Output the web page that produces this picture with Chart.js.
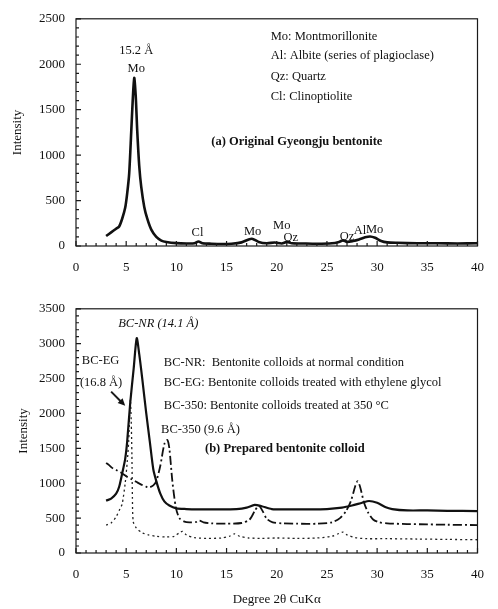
<!DOCTYPE html>
<html>
<head>
<meta charset="utf-8">
<script src="https://cdn.jsdelivr.net/npm/chart.js"></script>
<style>
    body { margin: 0; background: #fff; }
    #wrap { position: relative; width: 498px; height: 609px; }
    #top_box { position: absolute; left: 0; top: 0; width: 498px; height: 290px; }
    #bot_box { position: absolute; left: 0; top: 290px; width: 498px; height: 319px; }
</style>
</head>
<body>
<div id="wrap">
    <div id="top_box"><canvas id="chart_a"></canvas></div>
    <div id="bot_box"><canvas id="chart_b"></canvas></div>
</div>
<script>
// (a) Original Gyeongju bentonite
const a_theta = [3.0, 3.5, 4.0, 4.3, 4.6, 4.9, 5.1, 5.3, 5.5, 5.65, 5.8, 5.95, 6.1, 6.3, 6.5, 6.8, 7.1, 7.5, 8.0, 8.5, 9.0, 10, 11, 11.8, 12.2, 12.6, 13.5, 14.5, 15.5, 16.5, 17.2, 17.6, 18.2, 19.0, 19.8, 20.5, 21.0, 21.5, 22.5, 24, 25.5, 26.2, 26.6, 27.0, 27.6, 28.2, 28.8, 29.3, 29.8, 30.4, 31, 32, 34, 36, 38, 40];
const a_int   = [110, 150, 190, 215, 300, 420, 580, 800, 1250, 1600, 1850, 1650, 1270, 880, 650, 430, 300, 180, 100, 60, 45, 32, 28, 30, 50, 30, 25, 22, 25, 40, 72, 78, 45, 30, 38, 28, 45, 30, 28, 25, 30, 45, 62, 45, 55, 72, 95, 105, 90, 55, 40, 35, 30, 30, 28, 30];

// (b) Prepared bentonite colloid
const nr_theta = [3.0, 3.5, 4.0, 4.3, 4.6, 4.9, 5.1, 5.4, 5.75, 6.05, 6.3, 6.6, 7.0, 7.35, 7.7, 8.0, 8.4, 8.8, 9.3, 10, 11, 12, 14, 16, 17.0, 17.8, 18.5, 19.5, 21, 23, 25, 26.5, 27.5, 28.5, 29.2, 30.0, 30.8, 31.5, 33, 35, 37, 40];
const nr_int   = [750, 780, 850, 950, 1140, 1350, 1600, 2150, 2650, 3080, 2850, 2500, 2000, 1600, 1200, 1030, 850, 740, 680, 640, 630, 625, 625, 630, 650, 690, 670, 630, 625, 625, 630, 650, 680, 720, 745, 720, 660, 630, 610, 610, 605, 600];

const eg_theta = [3.0, 3.5, 4.0, 4.4, 4.6, 4.9, 5.1, 5.25, 5.35, 5.42, 5.5, 5.57, 5.62, 5.7, 6.0, 6.6, 7.2, 8, 9, 9.8, 10.3, 10.6, 11.0, 11.8, 13, 14.5, 15.3, 15.8, 16.3, 17.2, 18.5, 20, 22, 24, 25.5, 26.2, 26.6, 27.0, 27.8, 29, 31, 34, 37, 40];
const eg_int   = [400, 430, 520, 640, 700, 1000, 1300, 1600, 2000, 2200, 1900, 1400, 800, 450, 360, 290, 260, 240, 230, 240, 290, 310, 260, 220, 210, 215, 240, 275, 240, 215, 210, 215, 210, 215, 240, 280, 300, 260, 220, 205, 205, 200, 195, 190];

const h350_theta = [3.0, 3.3, 3.6, 4.0, 4.5, 5.0, 5.5, 6.0, 6.5, 7.0, 7.3, 7.7, 8.0, 8.4, 8.8, 9.1, 9.3, 9.6, 9.95, 10.3, 10.8, 11.3, 12.0, 12.3, 12.7, 13.5, 15, 16.5, 17.3, 17.8, 18.2, 18.6, 19.0, 19.6, 20.5, 22, 24, 25.5, 26.3, 26.9, 27.4, 27.8, 28.05, 28.3, 28.7, 29.1, 29.6, 30.2, 31, 33, 35, 37, 40];
const h350_int   = [1290, 1260, 1220, 1190, 1150, 1100, 1060, 1020, 980, 950, 940, 970, 1030, 1250, 1560, 1620, 1500, 1030, 650, 500, 450, 440, 445, 465, 440, 425, 420, 430, 480, 600, 680, 600, 490, 440, 425, 420, 420, 440, 500, 600, 750, 950, 1030, 950, 720, 580, 480, 440, 425, 415, 410, 405, 400];

const x_min = 0, x_max = 40, x_step = 5;
const a_y_max = 2500, b_y_max = 3500, y_step = 500;

const serif = "'Liberation Serif', 'Times New Roman', serif";

function toPoints(xs, ys) {
    let res = [];
    for (let i = 0; i < xs.length; i++) {
        res.push({ x: xs[i], y: ys[i] });
    }
    return res;
}

// frame, inward ticks and text notes
const framePlugin = {
    id: 'frame',
    afterDraw(chart, args, opts) {
        const ctx = chart.ctx;
        const a = chart.chartArea;
        const xs = chart.scales.x, ys = chart.scales.y;
        ctx.save();
        ctx.strokeStyle = '#1a1a1a';
        ctx.lineWidth = 1.2;
        ctx.strokeRect(a.left, a.top, a.right - a.left, a.bottom - a.top);
        ctx.beginPath();
        xs.ticks.forEach(t => {
            let px = xs.getPixelForValue(t.value);
            let len = t.value % x_step === 0 ? 5 : 3;
            ctx.moveTo(px, a.bottom);
            ctx.lineTo(px, a.bottom - len);
        });
        ys.ticks.forEach(t => {
            let py = ys.getPixelForValue(t.value);
            let len = t.value % y_step === 0 ? 5 : 3;
            ctx.moveTo(a.left, py);
            ctx.lineTo(a.left + len, py);
        });
        ctx.stroke();

        ctx.fillStyle = '#111';
        ctx.textBaseline = 'middle';
        (opts.notes || []).forEach(n => {
            ctx.font = (n.style || '') + ' 12.5px ' + serif;
            ctx.textAlign = n.align || 'center';
            ctx.fillText(n.text, xs.getPixelForValue(n.x), ys.getPixelForValue(n.y));
        });

        (opts.arrows || []).forEach(ar => {
            let x1 = xs.getPixelForValue(ar.x1), y1 = ys.getPixelForValue(ar.y1);
            let x2 = xs.getPixelForValue(ar.x2), y2 = ys.getPixelForValue(ar.y2);
            let ang = Math.atan2(y2 - y1, x2 - x1);
            ctx.lineWidth = 2;
            ctx.beginPath();
            ctx.moveTo(x1, y1);
            ctx.lineTo(x2 - 4 * Math.cos(ang), y2 - 4 * Math.sin(ang));
            ctx.stroke();
            ctx.beginPath();
            ctx.moveTo(x2, y2);
            ctx.lineTo(x2 - 8 * Math.cos(ang - 0.45), y2 - 8 * Math.sin(ang - 0.45));
            ctx.lineTo(x2 - 8 * Math.cos(ang + 0.45), y2 - 8 * Math.sin(ang + 0.45));
            ctx.closePath();
            ctx.fill();
        });
        ctx.restore();
    }
};

function makeOptions(yMax, titlePad, xTitle, notes, arrows) {
    return {
        responsive: true,
        maintainAspectRatio: false,
        animation: false,
        layout: { padding: { top: 15, right: 11, left: 0, bottom: 0 } },
        elements: { point: { radius: 0 }, line: { tension: 0.25 } },
        plugins: {
            legend: { display: false },
            tooltip: { enabled: false },
            frame: { notes: notes, arrows: arrows }
        },
        scales: {
            x: {
                type: 'linear',
                min: x_min,
                max: x_max,
                grid: { display: false, drawTicks: false },
                border: { display: false },
                ticks: {
                    stepSize: 1,
                    autoSkip: false,
                    maxRotation: 0,
                    padding: 14,
                    color: '#111',
                    font: { family: serif, size: 13 },
                    callback: v => (v % x_step === 0 ? v : '')
                },
                title: xTitle,
                afterFit: s => { s.height = xTitle.display ? 56 : 44; }
            },
            y: {
                min: 0,
                max: yMax,
                grid: { display: false, drawTicks: false },
                border: { display: false },
                ticks: {
                    stepSize: 100,
                    autoSkip: false,
                    padding: 11,
                    color: '#111',
                    font: { family: serif, size: 13 },
                    callback: v => (v % y_step === 0 ? v : '')
                },
                title: {
                    display: true,
                    text: 'Intensity',
                    color: '#111',
                    font: { family: serif, size: 13 },
                    padding: { top: titlePad, bottom: 0 }
                },
                afterFit: s => { s.width = 76; }
            }
        }
    };
}

const notes_a = [
    { text: '15.2 Å', x: 6.0, y: 2154 },
    { text: 'Mo', x: 6.0, y: 1948 },
    { text: 'Cl', x: 12.1, y: 141 },
    { text: 'Mo', x: 17.6, y: 152 },
    { text: 'Mo', x: 20.5, y: 227 },
    { text: 'Qz', x: 21.4, y: 87 },
    { text: 'Qz', x: 27.0, y: 97 },
    { text: 'Al', x: 28.3, y: 173 },
    { text: 'Mo', x: 29.75, y: 184 },
    { text: 'Mo: Montmorillonite', x: 19.4, y: 2305, align: 'left' },
    { text: 'Al: Albite (series of plagioclase)', x: 19.4, y: 2089, align: 'left' },
    { text: 'Qz: Quartz', x: 19.4, y: 1861, align: 'left' },
    { text: 'Cl: Clinoptiolite', x: 19.4, y: 1645, align: 'left' },
    { text: '(a) Original Gyeongju bentonite', x: 22.0, y: 1147, style: 'bold' }
];

const notes_b = [
    { text: 'BC-NR (14.1 Å)', x: 8.2, y: 3286, style: 'italic' },
    { text: 'BC-EG', x: 2.45, y: 2750 },
    { text: '(16.8 Å)', x: 2.5, y: 2440 },
    { text: 'BC-350 (9.6 Å)', x: 12.4, y: 1763 },
    { text: 'BC-NR:  Bentonite colloids at normal condition', x: 8.75, y: 2722, align: 'left' },
    { text: 'BC-EG: Bentonite colloids treated with ethylene glycol', x: 8.75, y: 2440, align: 'left' },
    { text: 'BC-350: Bentonite colloids treated at 350 °C', x: 8.75, y: 2116, align: 'left' },
    { text: '(b) Prepared bentonite colloid', x: 20.8, y: 1495, style: 'bold' }
];
const arrows_b = [{ x1: 3.5, y1: 2313, x2: 4.9, y2: 2110 }];

new Chart(document.getElementById('chart_a'), {
    type: 'line',
    data: {
        datasets: [{
            label: 'Original Gyeongju bentonite',
            data: toPoints(a_theta, a_int),
            borderColor: '#111',
            borderWidth: 2.6
        }]
    },
    options: makeOptions(a_y_max, 10, { display: false }, notes_a, []),
    plugins: [framePlugin]
});

new Chart(document.getElementById('chart_b'), {
    type: 'line',
    data: {
        datasets: [
            {
                label: 'BC-NR',
                data: toPoints(nr_theta, nr_int),
                borderColor: '#111',
                borderWidth: 2.2
            },
            {
                label: 'BC-EG',
                data: toPoints(eg_theta, eg_int),
                borderColor: '#222',
                borderWidth: 1.3,
                borderDash: [2, 3]
            },
            {
                label: 'BC-350',
                data: toPoints(h350_theta, h350_int),
                borderColor: '#111',
                borderWidth: 1.8,
                borderDash: [9, 3, 2, 3]
            }
        ]
    },
    options: makeOptions(b_y_max, 16, {
        display: true,
        text: 'Degree 2θ CuKα',
        color: '#111',
        font: { family: serif, size: 13 },
        padding: { top: 0, bottom: 2 }
    }, notes_b, arrows_b),
    plugins: [framePlugin]
});
</script>
</body>
</html>
